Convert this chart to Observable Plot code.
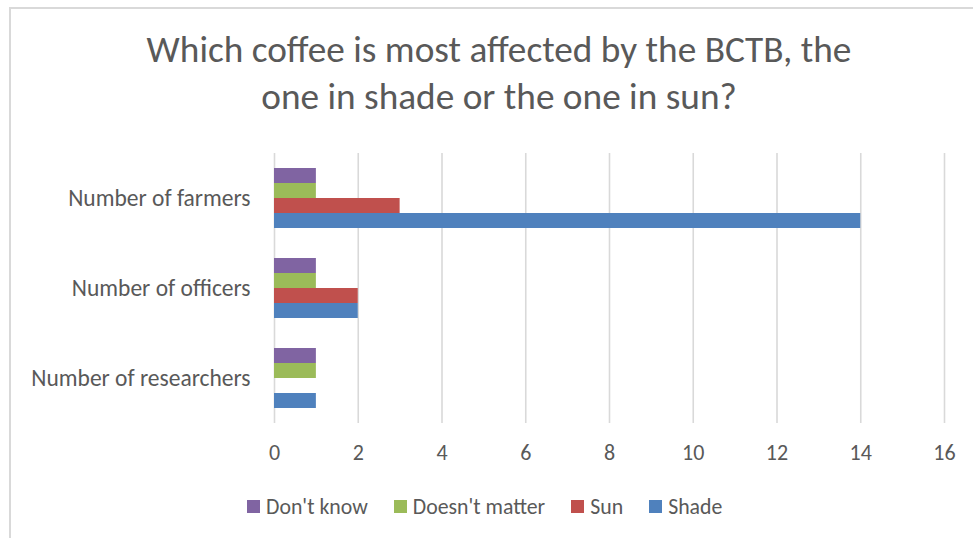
<!DOCTYPE html>
<html>
<head>
<meta charset="utf-8">
<script src="https://cdn.jsdelivr.net/npm/d3@7"></script>
<script src="https://cdn.jsdelivr.net/npm/@observablehq/plot@0.6"></script>
<style>
  html, body { margin: 0; padding: 0; background: #fff; }
  body { width: 973px; height: 538px; overflow: hidden; position: relative;
         font-family: Carlito, Calibri, Lato, "Open Sans", sans-serif; color: #595959; }
  #frame { position: absolute; left: 9px; top: 7px; width: 1000px; height: 600px;
           border: 2px solid #d9d9d9; box-sizing: border-box; }
  #title { position: absolute; left: 0; width: 998px; top: 26px; text-align: center;
           font-size: 37.3px; line-height: 47px; color: #595959; }
  #chart { position: absolute; left: 0; top: 140px; }
  #legend { position: absolute; left: 247px; top: 493px; display: flex;
            gap: 26px; font-size: 21.8px; color: #595959; }
  .item { display: flex; align-items: center; gap: 6px; }
  .sw { width: 13px; height: 13px; display: inline-block; }
  #chart svg text { fill: #595959; }
</style>
</head>
<body>
<div id="frame"></div>
<div id="title">Which coffee is most affected by the BCTB, the<br>one in shade or the one in sun?</div>
<div id="chart"></div>
<div id="legend"></div>
<script>
// Respondent groups, top to bottom
const groups = ["Number of farmers", "Number of officers", "Number of researchers"];
// Answer options, in bar order within each group
const answers = ["Don't know", "Doesn't matter", "Sun", "Shade"];
const answerColors = ["#8064A2", "#9BBB59", "#C0504D", "#4F81BD"];
// Counts per answer, one value per group
const dontKnow = [1, 1, 1];
const doesntMatter = [1, 1, 1];
const sun = [3, 2, 0];
const shade = [14, 2, 1];
const xTicks = [0, 2, 4, 6, 8, 10, 12, 14, 16];

const seriesValues = [dontKnow, doesntMatter, sun, shade];
const rows = [];
answers.forEach((a, i) => {
  groups.forEach((g, j) => rows.push({group: g, answer: a, count: seriesValues[i][j]}));
});

const chart = Plot.plot({
  width: 973,
  height: 328,
  marginTop: 13,
  marginBottom: 45,
  marginLeft: 274,
  marginRight: 29,
  style: {fontFamily: "Carlito, Calibri, Lato, 'Open Sans', sans-serif", color: "#595959", background: "transparent"},
  x: {domain: [0, 16], ticks: xTicks, axis: null},
  y: {domain: answers, paddingInner: 0, paddingOuter: 0.9, axis: null},
  fy: {domain: groups, padding: 0, label: null},
  color: {domain: answers, range: answerColors},
  marks: [
    Plot.ruleX(xTicks, {stroke: "#d9d9d9", strokeWidth: 1.6}),
    Plot.barX(rows, {x: "count", y: "answer", fy: "group", fill: "answer"}),
    Plot.axisFy({anchor: "left", tickSize: 0, tickPadding: 24, fontSize: 23.5, fill: "#595959", label: null}),
    Plot.axisX({ticks: xTicks, anchor: "bottom", tickSize: 0, tickPadding: 21, fontSize: 22, fill: "#595959", label: null})
  ]
});
document.getElementById("chart").appendChild(chart);

const legend = document.getElementById("legend");
answers.forEach((a, i) => {
  const item = document.createElement("div");
  item.className = "item";
  const sw = document.createElement("span");
  sw.className = "sw";
  sw.style.background = answerColors[i];
  const label = document.createElement("span");
  label.textContent = a;
  item.appendChild(sw);
  item.appendChild(label);
  legend.appendChild(item);
});
</script>
</body>
</html>
